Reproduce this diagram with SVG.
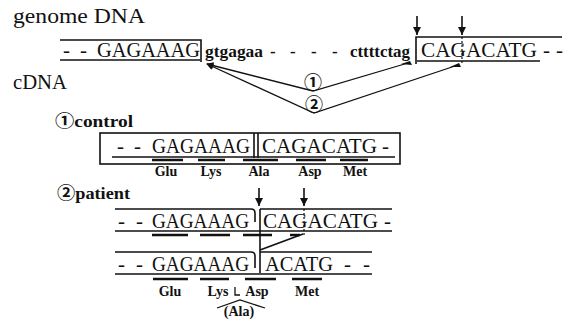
<svg xmlns="http://www.w3.org/2000/svg" width="574" height="322" viewBox="0 0 574 322">
  <defs>
    <style>
      .hd { font-size: 22px; }
      .sub { font-size: 17px; font-weight: bold; }
      .seq { font-size: 21px; }
      .intron { font-size: 17px; font-weight: bold; }
      .aa { font-size: 14px; font-weight: bold; text-anchor: middle; }
      .num { font-size: 18px; font-weight: bold; text-anchor: middle; }
      .ln { stroke: #111; stroke-width: 1.6; fill: none; }
      .thin { stroke: #111; stroke-width: 1.3; fill: none; }
      .bar { stroke: #111; stroke-width: 2.6; fill: none; }
      .dot { stroke: #111; stroke-width: 1.2; stroke-dasharray: 2 2; fill: none; }
    </style>
    <!-- arrowheads drawn along +x so orient="auto" turns them with the line -->
    <marker id="down" viewBox="0 0 10 10" refX="10" refY="5" markerWidth="10" markerHeight="8" markerUnits="userSpaceOnUse" orient="auto">
      <path d="M0,0 L10,5 L0,10 Z" fill="#111"/>
    </marker>
    <marker id="tip" viewBox="0 0 10 10" refX="9" refY="5" markerWidth="9" markerHeight="7" markerUnits="userSpaceOnUse" orient="auto">
      <path d="M0,0 L10,5 L0,10 Z" fill="#111"/>
    </marker>
  </defs>

  <rect width="574" height="322" fill="#fff"/>

  <g font-family="'Liberation Serif', 'DejaVu Serif', 'Noto Sans CJK JP', serif" fill="#111">

  <!-- section headings -->
  <g id="heading-genome">
    <text class="hd" x="13" y="23" textLength="132" lengthAdjust="spacingAndGlyphs">genome DNA</text>
  </g>
  <g id="heading-cdna">
    <text class="hd" x="13" y="89" textLength="54" lengthAdjust="spacingAndGlyphs">cDNA</text>
  </g>

  <!-- genomic sequence: exon / intron / exon -->
  <g id="genome-exon1">
    <path class="ln" d="M60,40 H201 V62"/>
    <text class="seq" x="63" y="57">-</text>
    <text class="seq" x="80" y="57">-</text>
    <text class="seq" x="97" y="57" textLength="103" lengthAdjust="spacingAndGlyphs">GAGAAAG</text>
    <line class="thin" x1="60" y1="60" x2="200" y2="60"/>
  </g>
  <g id="genome-intron">
    <text class="intron" x="205" y="57" textLength="58" lengthAdjust="spacingAndGlyphs">gtgagaa</text>
    <text class="intron" x="270" y="57">-</text>
    <text class="intron" x="290" y="57">-</text>
    <text class="intron" x="311" y="57">-</text>
    <text class="intron" x="332" y="57">-</text>
    <text class="intron" x="350" y="57" textLength="60" lengthAdjust="spacingAndGlyphs">cttttctag</text>
  </g>
  <g id="genome-exon2">
    <path class="ln" d="M416,64 V37 H562"/>
    <text class="seq" x="421" y="57" textLength="116" lengthAdjust="spacingAndGlyphs">CAGACATG</text>
    <text class="seq" x="543" y="57">-</text>
    <text class="seq" x="556" y="57">-</text>
    <line class="thin" x1="417" y1="61" x2="540" y2="61"/>
    <line class="ln" x1="417" y1="16" x2="417" y2="35" marker-end="url(#down)"/>
    <line class="ln" x1="462" y1="16" x2="462" y2="35" marker-end="url(#down)"/>
    <line class="dot" x1="462" y1="37" x2="462" y2="63"/>
  </g>
  <g id="splice-1">
    <text class="num" x="313" y="89">①</text>
  </g>
  <g id="splice-2">
    <text class="num" x="314" y="111">②</text>
  </g>

  <!-- control cDNA -->
  <g id="control">
    <text class="sub" x="55" y="127" textLength="78" lengthAdjust="spacingAndGlyphs">①control</text>
    <rect class="ln" x="100" y="133" width="300" height="31"/>
    <line class="ln" x1="254" y1="133" x2="254" y2="158"/>
    <line class="ln" x1="258" y1="133" x2="258" y2="158"/>
    <text class="seq" x="117" y="153">-</text>
    <text class="seq" x="134" y="153">-</text>
    <text class="seq" x="152" y="153" textLength="98" lengthAdjust="spacingAndGlyphs">GAGAAAG</text>
    <text class="seq" x="262" y="153" textLength="115" lengthAdjust="spacingAndGlyphs">CAGACATG</text>
    <text class="seq" x="382" y="153">-</text>
    <line class="thin" x1="112" y1="157" x2="395" y2="157"/>
    <path class="bar" d="M152,160 H183 M198,160 H225 M243,160 H278 M296,160 H326 M340,160 H368"/>
    <text class="aa" x="166" y="176">Glu</text>
    <text class="aa" x="211" y="176">Lys</text>
    <text class="aa" x="259" y="176">Ala</text>
    <text class="aa" x="310" y="176">Asp</text>
    <text class="aa" x="355" y="176">Met</text>
  </g>

  <!-- patient cDNA -->
  <g id="patient">
    <text class="sub" x="57" y="199" textLength="73" lengthAdjust="spacingAndGlyphs">②patient</text>
  </g>
  <g id="patient-genomic">
    <path class="ln" d="M115,209 H251 Q255,209 255,213 V222"/>
    <line class="ln" x1="260" y1="209" x2="392" y2="209"/>
    <text class="seq" x="118" y="228">-</text>
    <text class="seq" x="136" y="228">-</text>
    <text class="seq" x="152" y="228" textLength="97" lengthAdjust="spacingAndGlyphs">GAGAAAG</text>
    <text class="seq" x="263" y="228" textLength="115" lengthAdjust="spacingAndGlyphs">CAGACATG</text>
    <text class="seq" x="384" y="228">-</text>
    <line class="thin" x1="115" y1="231" x2="392" y2="231"/>
    <path class="bar" d="M152,235 H188 M200,235 H230 M243,235 H272 M290,235 H300"/>
  </g>
  <g id="patient-mrna">
    <path class="ln" d="M115,252 H251 Q255,252 255,256 V268"/>
    <line class="ln" x1="260" y1="252" x2="372" y2="252"/>
    <text class="seq" x="118" y="271">-</text>
    <text class="seq" x="136" y="271">-</text>
    <text class="seq" x="152" y="271" textLength="97" lengthAdjust="spacingAndGlyphs">GAGAAAG</text>
    <text class="seq" x="265" y="271" textLength="68" lengthAdjust="spacingAndGlyphs">ACATG</text>
    <text class="seq" x="344" y="271">-</text>
    <text class="seq" x="363" y="271">-</text>
    <line class="thin" x1="115" y1="274" x2="372" y2="274"/>
    <path class="bar" d="M153,279 H188 M200,279 H229 M245,279 H276 M292,279 H322"/>
    <text class="aa" x="170" y="296">Glu</text>
    <text class="aa" x="218" y="296">Lys</text>
    <path class="thin" d="M235,287 V295 H240"/>
    <text class="aa" x="257" y="296">Asp</text>
    <text class="aa" x="307" y="296">Met</text>
    <polyline class="thin" points="217,308 240,300 265,308"/>
    <text class="aa" x="239" y="316">(Ala)</text>
  </g>
  </g>

  <!-- splice connectors and mutation markers -->
  <g id="connectors">
    <polyline class="thin" points="408,63 313,91 207,64" marker-end="url(#tip)"/>
    <polyline class="thin" points="458,65 314,113 207,64" marker-end="url(#tip)"/>
    <path d="M401,64 L410,61 L412,65 Z" fill="#111"/>
    <path d="M450,67 L459,63 L461,67 Z" fill="#111"/>
    <line class="ln" x1="259" y1="188" x2="259" y2="206" marker-end="url(#down)"/>
    <line class="ln" x1="304" y1="188" x2="304" y2="206" marker-end="url(#down)"/>
    <line class="dot" x1="304" y1="209" x2="304" y2="236"/>
    <line class="ln" x1="260" y1="209" x2="260" y2="273"/>
    <line class="ln" stroke-width="2" x1="260" y1="250" x2="303" y2="234"/>
  </g>
</svg>
